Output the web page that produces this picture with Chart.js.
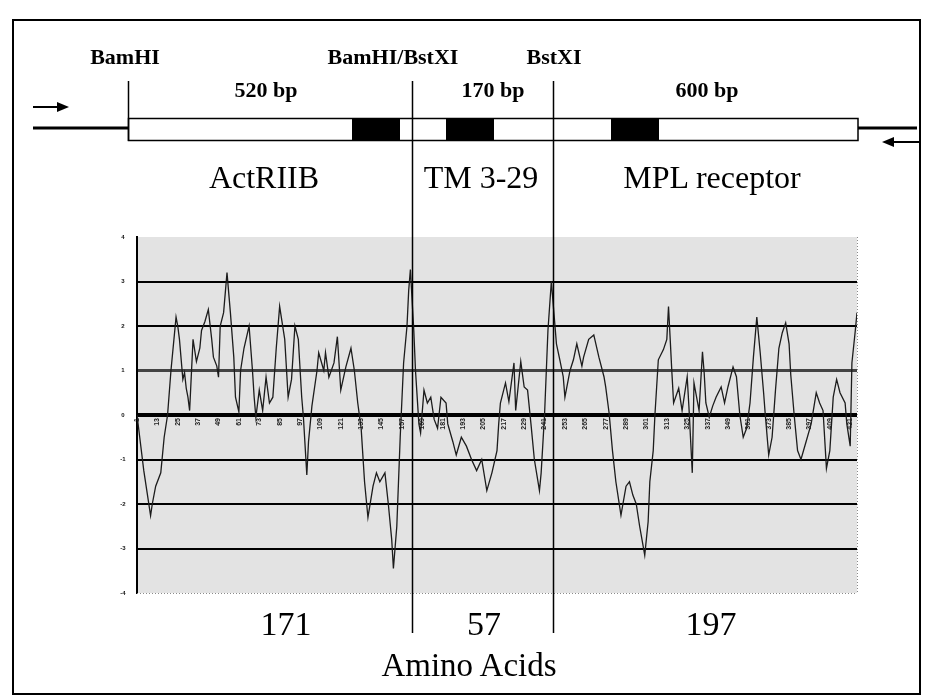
<!DOCTYPE html>
<html><head><meta charset="utf-8">
<script src="https://cdn.jsdelivr.net/npm/chart.js@4.4.1/dist/chart.umd.min.js"></script>
<style>
html,body{margin:0;padding:0;background:#fff;}
#wrap{position:relative;width:927px;height:696px;overflow:hidden;}
canvas{position:absolute;left:0;top:0;}
.lbl{position:absolute;white-space:nowrap;font-family:'Liberation Serif','Times New Roman',serif;color:#000;line-height:1;transform:translateX(-50%);}
</style></head>
<body><div id="wrap"><canvas id="c" width="927" height="696"></canvas></div>
<script>
// ---- data ----
const residues = [1,5,9,10,12,15,17,19,21,23,
 24,25,26,28,29,30,31,32,34,36,
 38,39,41,43,45,46,48,49,50,52,
 54,56,58,59,61,62,64,67,69,70,
 71,73,75,77,79,81,83,85,88,90,
 92,94,96,98,99,101,102,104,107,108,
 111,112,114,117,119,121,124,127,129,131,
 133,135,137,140,142,144,147,149,151,152,
 154,156,158,160,161,162,164,165,167,168,
 170,172,174,176,178,180,183,184,187,189,
 192,195,198,201,204,207,210,213,214,215,
 218,220,223,224,227,229,231,233,235,238,
 239,241,243,245,247,248,250,252,253,256,
 258,260,263,264,267,270,273,276,277,279,
 281,283,286,289,291,293,295,297,300,302,
 303,305,306,308,311,313,314,315,316,317,
 320,322,325,326,328,329,332,334,335,336,
 338,340,342,345,347,349,352,354,356,358,
 360,362,364,366,368,370,371,373,375,377,
 379,381,383,385,386,388,390,392,395,398,
 401,403,405,407,409,411,413,415,418,419,
 421,422,424,425];
const hydropathy = [0,-1.25,-2.26,-2.0,-1.6,-1.3,-0.5,0,1.0,1.8,
 2.2,2.0,1.7,0.8,0.95,0.6,0.4,0.1,1.7,1.2,
 1.5,1.9,2.1,2.37,1.7,1.3,1.1,0.85,2.0,2.3,
 3.2,2.3,1.3,0.4,0.07,1.0,1.5,2.0,1.0,0.4,
 -0.05,0.56,0.1,0.85,0.27,0.4,1.5,2.44,1.7,0.4,
 0.8,2.0,1.7,0.4,-0.05,-1.35,-0.6,0.2,1.0,1.4,
 1.0,1.4,0.85,1.17,1.76,0.56,1.08,1.5,1.0,0.27,
 -0.3,-1.5,-2.3,-1.6,-1.3,-1.5,-1.3,-2.0,-2.8,-3.45,
 -2.5,-0.5,1.17,2.0,2.8,3.27,1.9,1.0,-0.2,-0.4,
 0.56,0.27,0.4,-0.1,-0.3,0.4,0.27,-0.2,-0.6,-0.9,
 -0.5,-0.7,-1.0,-1.25,-1.0,-1.7,-1.3,-0.8,-0.2,0.27,
 0.72,0.3,1.17,0.1,1.2,0.63,0.56,-0.2,-1.0,-1.7,
 -1.3,0,1.9,3.0,2.07,1.6,1.24,0.86,0.4,1.0,
 1.24,1.6,1.1,1.3,1.7,1.8,1.3,0.86,0.63,0.05,
 -0.8,-1.5,-2.25,-1.6,-1.5,-1.8,-2.0,-2.5,-3.15,-2.4,
 -1.5,-0.8,0,1.24,1.47,1.7,2.44,1.7,0.95,0.27,
 0.6,0.1,0.86,0.2,-1.3,0.72,0.1,1.42,0.95,0.27,
 -0.05,0.2,0.4,0.63,0.27,0.63,1.08,0.86,0,-0.5,
 -0.3,0.27,1.3,2.2,1.4,0.5,0,-0.9,-0.5,0.56,
 1.5,1.85,2.07,1.6,0.9,0,-0.8,-1.0,-0.6,-0.2,
 0.5,0.27,0.1,-1.2,-0.8,0.4,0.8,0.5,0.27,-0.2,
 -0.7,1.17,1.9,2.3];
const xTickValues = [1,13,25,37,49,61,73,85,97,109,121,133,145,157,169,181,193,205,217,229,241,253,265,277,289,301,313,325,337,349,361,373,385,397,409,421];
const yTickValues = [4,3,2,1,0,-1,-2,-3,-4];
const domainCuts = [163, 246];
const siteLabels = ['BamHI','BamHI/BstXI','BstXI'];
const fragmentLabels = ['520 bp','170 bp','600 bp'];
const domainNames = ['ActRIIB','TM 3-29','MPL receptor'];
const domainLengths = ['171','57','197'];
const xTitle = 'Amino Acids';

const points = residues.map((r,i)=>({x:r, y:hydropathy[i]}));

function line(ctx,x1,y1,x2,y2){ctx.beginPath();ctx.moveTo(x1,y1);ctx.lineTo(x2,y2);ctx.stroke();}

const deco = {
  id:'deco',
  beforeDraw(chart){
    const {ctx, chartArea:a} = chart;
    ctx.save();
    ctx.fillStyle='#e3e3e3';
    ctx.fillRect(a.left,a.top,a.right-a.left,a.bottom-a.top);
    ctx.restore();
  },
  afterDraw(chart){
    const {ctx, chartArea:a} = chart;
    const xs = chart.scales.x, ys = chart.scales.y;
    ctx.save();
    // dotted bottom / right edges of plot
    ctx.strokeStyle='#8a8a8a'; ctx.lineWidth=1; ctx.setLineDash([1,2]);
    line(ctx,a.left,a.bottom+0.5,a.right,a.bottom+0.5);
    line(ctx,a.right+0.5,a.top,a.right+0.5,a.bottom);
    ctx.setLineDash([]);
    // y tick labels
    ctx.fillStyle='#111'; ctx.font='bold 6px "Liberation Sans", Arial, sans-serif';
    ctx.textAlign='center'; ctx.textBaseline='middle';
    yTickValues.forEach(v=>ctx.fillText(String(v), a.left-14, ys.getPixelForValue(v)));
    // outer frame
    ctx.strokeStyle='#000'; ctx.lineWidth=2;
    ctx.strokeRect(13,20,907,674);
    // construct lines
    ctx.lineWidth=3;
    line(ctx,33,128,128,128);
    line(ctx,858,128,917,128);
    // construct bar
    ctx.fillStyle='#fff'; ctx.fillRect(128,118,730,23);
    ctx.lineWidth=1.5; ctx.strokeRect(128.5,118.5,729.5,22);
    ctx.fillStyle='#000';
    [[352,400],[446,494],[611,659]].forEach(b=>ctx.fillRect(b[0],119,b[1]-b[0],21));
    // restriction site lines
    ctx.lineWidth=1.5;
    line(ctx,128.5,81,128.5,141);
    domainCuts.forEach(c=>{const x=Math.round(xs.getPixelForValue(c))+0.5; line(ctx,x,81,x,633);});
    // primer arrows
    ctx.lineWidth=2;
    line(ctx,33,107,60,107);
    ctx.beginPath(); ctx.moveTo(57,102); ctx.lineTo(69,107); ctx.lineTo(57,112); ctx.closePath(); ctx.fill();
    line(ctx,919,142,892,142);
    ctx.beginPath(); ctx.moveTo(894,137); ctx.lineTo(882,142); ctx.lineTo(894,147); ctx.closePath(); ctx.fill();
    ctx.restore();
  }
};

new Chart(document.getElementById('c'), {
  type:'line',
  data:{datasets:[{data:points, borderColor:'#1c1c1c', borderWidth:1.3, pointRadius:0, tension:0, fill:false}]},
  options:{
    responsive:false, animation:false,
    layout:{padding:{left:137, right:70, top:237, bottom:103}},
    plugins:{legend:{display:false}, tooltip:{enabled:false}},
    scales:{
      x:{type:'linear', min:1, max:425, position:{y:0},
        afterBuildTicks:(s)=>{s.ticks = xTickValues.map(v=>({value:v}));},
        grid:{display:false, drawTicks:false}, border:{display:false},
        ticks:{autoSkip:false, minRotation:90, maxRotation:90, padding:3, color:'#222',
          font:{size:7, family:'"Liberation Sans", Arial, sans-serif', weight:'bold'}}},
      y:{type:'linear', min:-4, max:4, position:'left',
        ticks:{display:false, stepSize:1},
        grid:{drawTicks:false,
          color:(c)=>{const v=c.tick&&c.tick.value; if(v===4||v===-4) return 'rgba(0,0,0,0)'; if(v===1) return '#444'; return '#000';},
          lineWidth:(c)=>{const v=c.tick&&c.tick.value; if(v===0) return 4; if(v===1) return 3; return 2;}},
        border:{display:true, color:'#000', width:2}}
    }
  },
  plugins:[deco]
});

// ---- text labels ----
const wrap = document.getElementById('wrap');
function addLabel(text, cx, baseline, size, bold){
  const d = document.createElement('div');
  d.className='lbl';
  d.textContent = text;
  d.style.fontSize = size+'px';
  d.style.fontWeight = bold ? 'bold' : 'normal';
  d.style.left = cx+'px';
  d.style.top = (baseline - 0.8375*size)+'px';
  wrap.appendChild(d);
}
[125,393,554].forEach((x,i)=>addLabel(siteLabels[i], x, 64, 22, true));
[266,493,707].forEach((x,i)=>addLabel(fragmentLabels[i], x, 97, 22, true));
[264,481,712].forEach((x,i)=>addLabel(domainNames[i], x, 188, 32, false));
[286,484,711].forEach((x,i)=>addLabel(domainLengths[i], x, 635, 34, false));
addLabel(xTitle, 469, 677, 33, false);
</script>
</body></html>
